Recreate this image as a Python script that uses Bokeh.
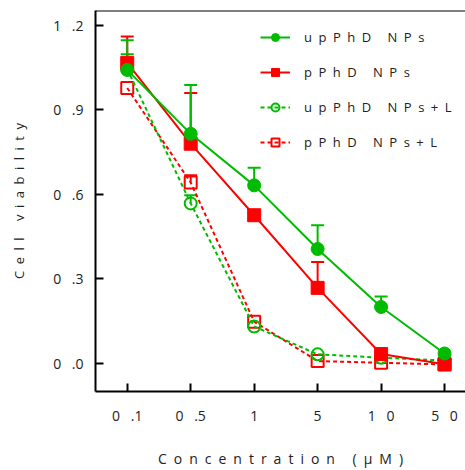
from bokeh.plotting import figure
from bokeh.models import (ColumnDataSource, Range1d, Whisker, TeeHead, Legend, LegendItem,
                          Span, FixedTicker)
from bokeh.embed import file_html
from bokeh.resources import INLINE
import math

# ---- data ----
conc_labels = ["0.1", "0.5", "1", "5", "10", "50"]
y_tick_values = [0.0, 0.3, 0.6, 0.9, 1.2]
y_tick_labels = ["0.0", "0.3", "0.6", "0.9", "1.2"]

up_np = [1.042, 0.815, 0.632, 0.406, 0.200, 0.035]
up_np_hi = [1.147, 0.988, 0.695, 0.490, 0.237, float("nan")]

p_np = [1.067, 0.780, 0.526, 0.268, 0.033, -0.003]
p_np_hi = [1.161, 0.960, float("nan"), 0.360, float("nan"), float("nan")]

up_np_l = [1.045, 0.568, 0.131, 0.032, 0.020, 0.010]
up_np_l_hi = [1.098, 0.597, float("nan"), float("nan"), float("nan"), float("nan")]

p_np_l = [0.978, 0.642, 0.148, 0.008, 0.002, -0.004]
p_np_l_hi = [float("nan"), 0.668, float("nan"), float("nan"), float("nan"), float("nan")]

series_names = ["upPhD NPs", "pPhD NPs", "upPhD NPs+L", "pPhD NPs+L"]
x_title = "Concentration (µM)"
y_title = "Cell viability"

GREEN = "#00bb00"
RED = "#ff0000"
FONT = "Open Sans"
TXT = "#222222"

GAP = "\u2002"          # en space, imitates the letter spacing of the original
NB = "\u00a0"


def spaced(s, gap=GAP):
    return gap.join(NB if c == " " else c for c in s)


def tick_spaced(s):
    # original shows e.g. "0 .1": the gap sits before the decimal point
    if "." in s:
        a, b = s.split(".")
        return spaced(a) + GAP + NB + "." + b
    return spaced(s, GAP + NB)


xs = list(range(len(conc_labels)))

p = figure(width=465, height=470, output_backend="svg", toolbar_location=None,
           x_range=Range1d(-0.5, 5.33), y_range=Range1d(-0.1, 1.253),
           min_border_left=95, min_border_right=0, min_border_top=10, min_border_bottom=78)
p.outline_line_color = None
p.xgrid.visible = False
p.ygrid.visible = False
p.background_fill_color = "white"


def whiskers(vals, his, color):
    b, lo, up = [], [], []
    for x, v, h in zip(xs, vals, his):
        if not math.isnan(h):
            b.append(x); lo.append(v); up.append(h)
    src = ColumnDataSource(dict(base=b, lower=lo, upper=up))
    w = Whisker(base="base", lower="lower", upper="upper", source=src,
                line_color=color, line_width=2, lower_head=None,
                upper_head=TeeHead(size=13, line_color=color, line_width=2))
    p.add_layout(w)


# dashed series
whiskers(p_np_l, p_np_l_hi, RED)
r_pl_line = p.line(xs, p_np_l, line_color=RED, line_width=2, line_dash="4 3")
r_pl_mk = p.scatter(xs, p_np_l, marker="square", size=12, line_color=RED, line_width=2, fill_color=None)
whiskers(up_np_l, up_np_l_hi, GREEN)
r_ul_line = p.line(xs, up_np_l, line_color=GREEN, line_width=2, line_dash="4 3")
r_ul_mk = p.scatter(xs, up_np_l, marker="circle", size=12, line_color=GREEN, line_width=2, fill_color=None)

# solid series
whiskers(p_np, p_np_hi, RED)
r_p_line = p.line(xs, p_np, line_color=RED, line_width=2)
r_p_mk = p.scatter(xs, p_np, marker="square", size=13, line_color=RED, fill_color=RED)
whiskers(up_np, up_np_hi, GREEN)
r_u_line = p.line(xs, up_np, line_color=GREEN, line_width=2)
r_u_mk = p.scatter(xs, up_np, marker="circle", size=13, line_color=GREEN, fill_color=GREEN)

# top border
p.add_layout(Span(location=1.253, dimension="width", line_color="black", line_width=2))

legend = Legend(items=[
    LegendItem(label=spaced(series_names[0]), renderers=[r_u_line, r_u_mk]),
    LegendItem(label=spaced(series_names[1]), renderers=[r_p_line, r_p_mk]),
    LegendItem(label=spaced(series_names[2]), renderers=[r_ul_line, r_ul_mk]),
    LegendItem(label=spaced(series_names[3]), renderers=[r_pl_line, r_pl_mk]),
], location=(165, 239), border_line_color=None, background_fill_alpha=0,
   padding=0, spacing=15, glyph_width=30, glyph_height=20, label_standoff=14,
   label_text_font=FONT, label_text_font_size="13px", label_text_color=TXT)
p.add_layout(legend)

for ax in (p.xaxis[0], p.yaxis[0]):
    ax.axis_line_width = 2
    ax.axis_line_color = "black"
    ax.major_tick_in = 8
    ax.major_tick_out = 0
    ax.major_tick_line_width = 2
    ax.major_tick_line_color = "black"
    ax.minor_tick_line_color = None
    ax.major_label_text_font = FONT
    ax.major_label_text_font_size = "14px"
    ax.major_label_text_color = TXT
    ax.axis_label_text_font = FONT
    ax.axis_label_text_font_style = "normal"
    ax.axis_label_text_color = TXT

p.xaxis.axis_label_text_font_size = "14px"
p.yaxis.axis_label_text_font_size = "13px"

p.xaxis.ticker = FixedTicker(ticks=xs)
p.xaxis.major_label_overrides = {x: tick_spaced(l) for x, l in zip(xs, conc_labels)}
p.xaxis.major_label_standoff = 14
p.xaxis.axis_label = spaced(x_title)
p.xaxis.axis_label_standoff = 21

p.yaxis.ticker = FixedTicker(ticks=y_tick_values)
p.yaxis.major_label_overrides = {v: tick_spaced(l) for v, l in zip(y_tick_values, y_tick_labels)}
p.yaxis.major_label_standoff = 12
p.yaxis.axis_label = spaced(y_title)
p.yaxis.axis_label_standoff = 22

open("out.html", "w").write(file_html(p, INLINE))
